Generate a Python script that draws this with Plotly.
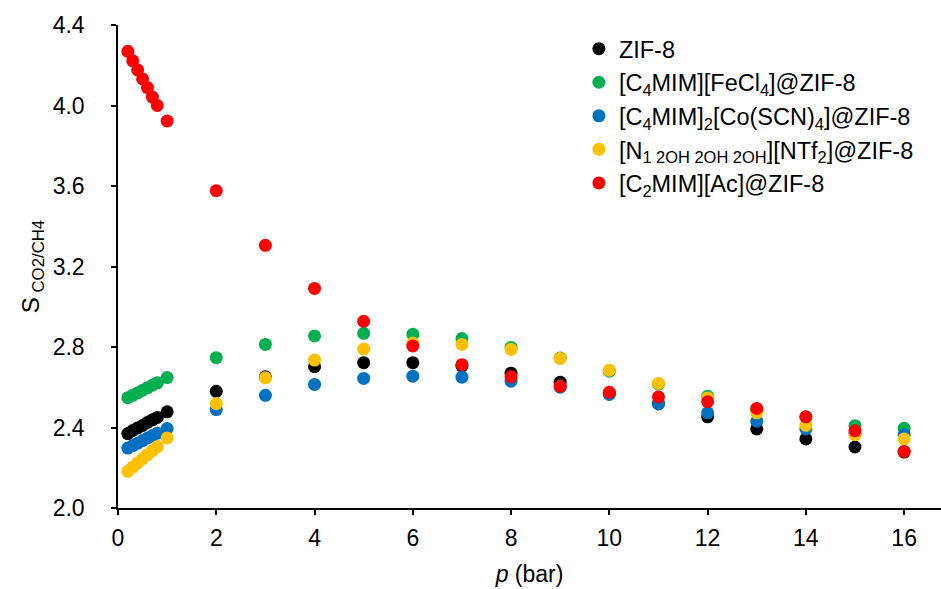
import plotly.graph_objects as go

p = [0.2, 0.3, 0.4, 0.5, 0.6, 0.7, 0.8, 1.0, 2, 3, 4, 5, 6, 7, 8, 9, 10, 11, 12, 13, 14, 15, 16]

zif8 = [2.37, 2.385, 2.398, 2.41, 2.425, 2.438, 2.45, 2.478,
        2.580, 2.652, 2.702, 2.722, 2.722, 2.705, 2.670, 2.625, 2.570, 2.52, 2.453, 2.393, 2.343, 2.303, 2.278]
fecl4 = [2.548, 2.56, 2.572, 2.585, 2.598, 2.61, 2.622, 2.648,
         2.747, 2.813, 2.855, 2.868, 2.863, 2.842, 2.798, 2.745, 2.680, 2.615, 2.555, 2.488, 2.452, 2.409, 2.396]
coscn = [2.298, 2.31, 2.322, 2.335, 2.348, 2.36, 2.372, 2.395,
         2.489, 2.560, 2.614, 2.644, 2.655, 2.650, 2.630, 2.600, 2.564, 2.517, 2.473, 2.431, 2.393, 2.370, 2.364]
ntf2 = [2.182, 2.203, 2.224, 2.245, 2.265, 2.285, 2.305, 2.348,
        2.519, 2.647, 2.735, 2.790, 2.820, 2.813, 2.788, 2.743, 2.685, 2.619, 2.547, 2.473, 2.411, 2.364, 2.343]
ac = [4.269, 4.222, 4.177, 4.132, 4.089, 4.042, 4.000, 3.923,
      3.577, 3.305, 3.091, 2.928, 2.805, 2.712, 2.652, 2.605, 2.575, 2.552, 2.528, 2.495, 2.453, 2.384, 2.281]

names = ["ZIF-8",
         "[C<sub>4</sub>MIM][FeCl<sub>4</sub>]@ZIF-8",
         "[C<sub>4</sub>MIM]<sub>2</sub>[Co(SCN)<sub>4</sub>]@ZIF-8",
         "[N<sub>1 2OH 2OH 2OH</sub>][NTf<sub>2</sub>]@ZIF-8",
         "[C<sub>2</sub>MIM][Ac]@ZIF-8"]
colors = ["#000000", "#00B050", "#0070C0", "#FFC000", "#FF0000"]
series = [zif8, fecl4, coscn, ntf2, ac]

FONT = "Liberation Sans, Arial, sans-serif"

fig = go.Figure()
for name, col, ys in zip(names, colors, series):
    fig.add_trace(go.Scatter(x=p, y=ys, mode="markers", name=name,
                             marker=dict(size=13, color=col, line=dict(width=0))))

fig.update_layout(
    width=941, height=589,
    margin=dict(l=118, r=0, t=25, b=81),
    paper_bgcolor="white", plot_bgcolor="white",
    font=dict(family=FONT, size=22, color="black"),
    showlegend=True,
    legend=dict(x=0.56, y=0.996, xanchor="left", yanchor="top",
                font=dict(size=23.5, family=FONT), itemsizing="trace",
                tracegroupgap=0, bgcolor="rgba(0,0,0,0)"),
    xaxis=dict(range=[0, 16.75], tickvals=[0, 2, 4, 6, 8, 10, 12, 14, 16],
               showline=True, linecolor="black", linewidth=1.5,
               ticks="outside", ticklen=5, tickcolor="black", tickwidth=1.5,
               ticklabelstandoff=4, tickfont=dict(size=23),
               showgrid=False, zeroline=False,
               title=dict(text="<i>p</i> (bar)", font=dict(size=23), standoff=16)),
    yaxis=dict(range=[2.0, 4.4], tickvals=[2.0, 2.4, 2.8, 3.2, 3.6, 4.0, 4.4],
               tickformat=".1f",
               showline=True, linecolor="black", linewidth=1.5,
               ticks="outside", ticklen=5, tickcolor="black", tickwidth=1.5,
               ticklabelstandoff=22, tickfont=dict(size=23),
               showgrid=False, zeroline=False,
               title=dict(text="S<sub> CO2/CH4</sub>", font=dict(size=24), standoff=6)),
)

fig.write_html("out.html")
